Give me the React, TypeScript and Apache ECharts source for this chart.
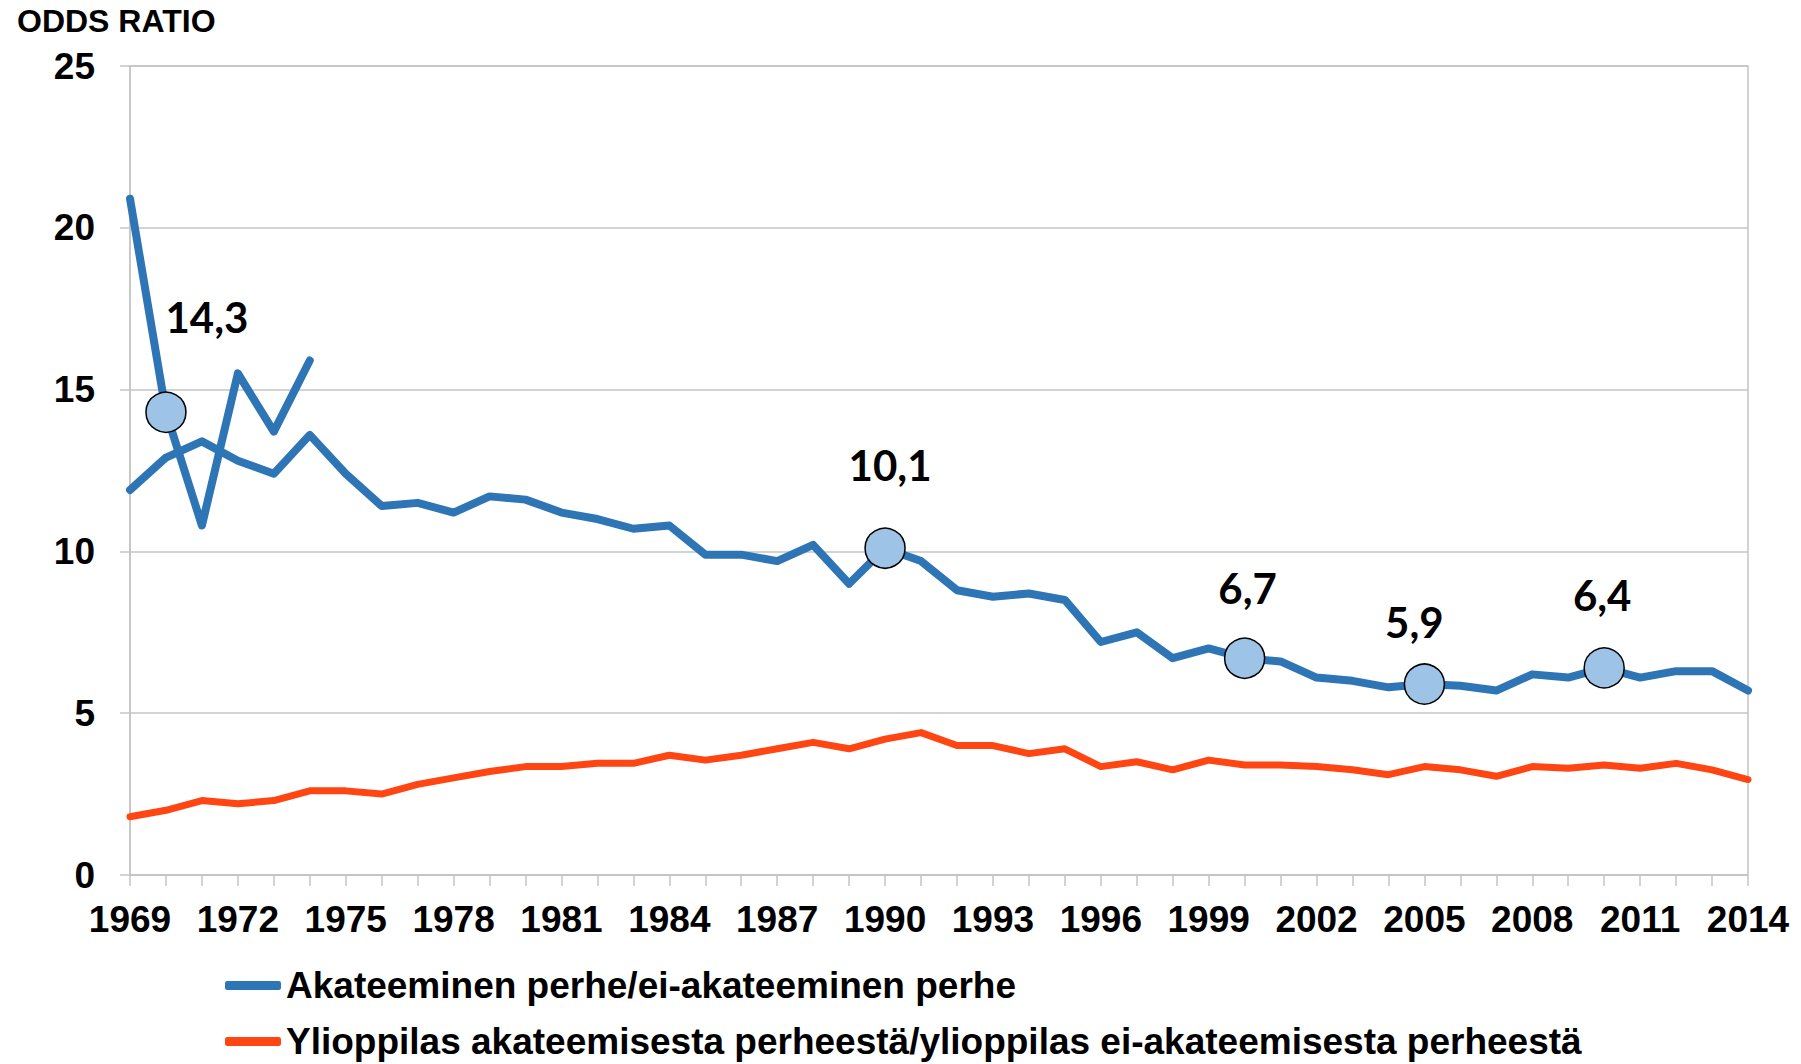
import React, { useEffect, useRef } from "react";
import * as echarts from "echarts";

const years = [
  "1969", "1970", "1971", "1972", "1973", "1974", "1975", "1976", "1977", "1978",
  "1979", "1980", "1981", "1982", "1983", "1984", "1985", "1986", "1987", "1988",
  "1989", "1990", "1991", "1992", "1993", "1994", "1995", "1996", "1997", "1998",
  "1999", "2000", "2001", "2002", "2003", "2004", "2005", "2006", "2007", "2008",
  "2009", "2010", "2011", "2012", "2013", "2014",
];

const mainName = "Akateeminen perhe/ei-akateeminen perhe";
const mainValues = [
  11.9, 12.9, 13.4, 12.8, 12.4, 13.6, 12.4, 11.4, 11.5, 11.2,
  11.7, 11.6, 11.2, 11.0, 10.7, 10.8, 9.9, 9.9, 9.7, 10.2,
  9.0, 10.1, 9.7, 8.8, 8.6, 8.7, 8.5, 7.2, 7.5, 6.7,
  7.0, 6.7, 6.6, 6.1, 6.0, 5.8, 5.9, 5.85, 5.7, 6.2,
  6.1, 6.4, 6.1, 6.3, 6.3, 5.7,
];

// early alternative series (1969-1974)
const earlyValues = [20.9, 14.3, 10.8, 15.5, 13.7, 15.9];

const studentName = "Ylioppilas akateemisesta perheestä/ylioppilas ei-akateemisesta perheestä";
const studentValues = [
  1.8, 2.0, 2.3, 2.2, 2.3, 2.6, 2.6, 2.5, 2.8, 3.0,
  3.2, 3.35, 3.35, 3.45, 3.45, 3.7, 3.55, 3.7, 3.9, 4.1,
  3.9, 4.2, 4.4, 4.0, 4.0, 3.75, 3.9, 3.35, 3.5, 3.25,
  3.55, 3.4, 3.4, 3.35, 3.25, 3.1, 3.35, 3.25, 3.05, 3.35,
  3.3, 3.4, 3.3, 3.45, 3.25, 2.95,
];

const highlightYears = ["1970", "1990", "2000", "2005", "2010"];
const highlightValues = [14.3, 10.1, 6.7, 5.9, 6.4];

// label placement (style, not data)
const labelOffsets = [
  [41, -95],
  [5, -83],
  [3, -70],
  [-10, -62],
  [-2, -73],
];

const yTicks = { min: 0, max: 25, interval: 5 };

const BLUE = "#2E75B6";
const RED = "#FF4511";
const GRIDC = "#C4C4C4";
const ARIAL = "'Liberation Sans', Arial, sans-serif";

export default function App() {
  const ref = useRef<HTMLDivElement>(null);

  useEffect(() => {
    if (!ref.current) return;
    const chart = echarts.init(ref.current, undefined, { renderer: "svg" });

    const highlightData = highlightYears.map((y, i) => ({
      value: [y, highlightValues[i]],
      label: {
        show: true,
        position: "inside",
        offset: labelOffsets[i],
        color: "#000",
        formatter: () => highlightValues[i].toFixed(1).replace(".", ","),
      },
    }));

    const option: any = {
      animation: false,
      backgroundColor: "#ffffff",
      title: {
        text: "ODDS RATIO",
        left: 17,
        top: 5,
        padding: 0,
        textStyle: {
          fontFamily: ARIAL,
          fontSize: 32,
          fontWeight: "bold",
          color: "#000",
        },
      },
      grid: {
        left: 130,
        right: 53,
        top: 66,
        bottom: 189,
        show: true,
        borderColor: GRIDC,
        borderWidth: 1.5,
        containLabel: false,
        outerBoundsMode: "none",
      },
      legend: {
        orient: "vertical",
        left: 225,
        top: 967,
        padding: 0,
        itemGap: 19,
        itemWidth: 56,
        itemHeight: 9,
        icon: "roundRect",
        data: [mainName, studentName],
        textStyle: {
          fontFamily: ARIAL,
          fontSize: 37,
          fontWeight: "bold",
          color: "#000",
        },
      },
      xAxis: {
        type: "category",
        data: years,
        boundaryGap: false,
        axisLine: { show: true, lineStyle: { color: GRIDC, width: 1.5 } },
        axisTick: {
          show: true,
          interval: 0,
          length: 11,
          lineStyle: { color: GRIDC, width: 1.5 },
        },
        axisLabel: {
          interval: 2,
          margin: 26,
          fontFamily: ARIAL,
          fontSize: 37,
          fontWeight: "bold",
          color: "#000",
        },
        splitLine: { show: false },
      },
      yAxis: {
        type: "value",
        min: yTicks.min,
        max: yTicks.max,
        interval: yTicks.interval,
        axisLine: { show: true, lineStyle: { color: GRIDC, width: 1.5 } },
        axisTick: {
          show: true,
          length: 10,
          lineStyle: { color: GRIDC, width: 1.5 },
        },
        axisLabel: {
          margin: 35,
          fontFamily: ARIAL,
          fontSize: 37,
          fontWeight: "bold",
          color: "#000",
        },
        splitLine: { show: true, lineStyle: { color: GRIDC, width: 1.5 } },
      },
      series: [
        {
          name: studentName,
          type: "line",
          data: studentValues,
          showSymbol: false,
          symbol: "none",
          color: RED,
          lineStyle: { color: RED, width: 7, cap: "round", join: "round" },
          z: 2,
        },
        {
          name: mainName,
          type: "line",
          data: mainValues,
          showSymbol: false,
          symbol: "none",
          color: BLUE,
          lineStyle: { color: BLUE, width: 8, cap: "round", join: "round" },
          z: 3,
        },
        {
          name: "early",
          type: "line",
          data: earlyValues,
          showSymbol: false,
          symbol: "none",
          color: BLUE,
          lineStyle: { color: BLUE, width: 8, cap: "round", join: "round" },
          z: 3,
        },
        {
          name: "highlights",
          type: "scatter",
          data: highlightData,
          symbol: "circle",
          symbolSize: 40,
          itemStyle: {
            color: "#9DC3E6",
            borderColor: "#000",
            borderWidth: 1.5,
            opacity: 1,
          },
          label: {
            show: true,
            fontFamily: "Lato, 'Open Sans', sans-serif",
            fontSize: 42,
            fontWeight: "bold",
            color: "#000",
            opacity: 1,
          },
          z: 5,
        },
      ],
    };

    chart.setOption(option);
    return () => chart.dispose();
  }, []);

  return (
    <div
      ref={ref}
      style={{ position: "fixed", left: 0, top: 0, width: 1801, height: 1064 }}
    />
  );
}
